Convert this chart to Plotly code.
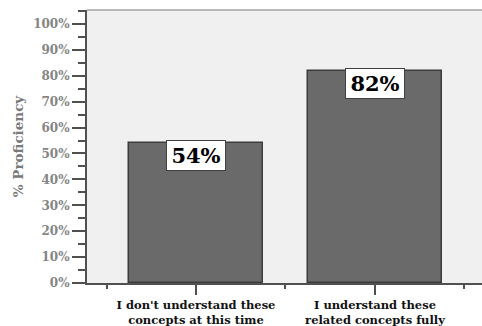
import plotly.graph_objects as go

# Survey categories and proficiency values (%)
categories = ["I don't understand these<br>concepts at this time",
              "I understand these<br>related concepts fully"]
proficiency = [54, 82]
tick_values = [0, 10, 20, 30, 40, 50, 60, 70, 80, 90, 100]
tick_labels = [f"{v}%" for v in tick_values]

x_pos = list(range(len(categories)))
serif = "DejaVu Serif"

fig = go.Figure()
fig.add_trace(go.Bar(
    x=x_pos, y=proficiency, width=0.754,
    marker=dict(color="#6a6a6a", line=dict(color="#3c3c3c", width=1.5)),
    hoverinfo="skip",
))

# value labels in white boxes at the top of each bar
for xi, v in zip(x_pos, proficiency):
    fig.add_annotation(
        x=xi, y=v, xref="x", yref="y", yanchor="top", showarrow=False,
        yshift=3,
        text=f"<b>{v}%</b>", font=dict(family=serif, size=21, color="black"),
        bgcolor="white", bordercolor="#404040", borderwidth=1, borderpad=1,
        width=56, height=27,
    )

# thin grey frame line along the top of the plot area
fig.add_shape(type="line", xref="paper", yref="paper", x0=0, x1=1, y0=1, y1=1,
              line=dict(color="#b8b8b8", width=2))

fig.update_layout(
    width=482, height=326,
    margin=dict(l=87, r=0, t=10, b=43),
    paper_bgcolor="white", plot_bgcolor="#f0f0f0",
    showlegend=False, bargap=0,
    xaxis=dict(
        range=[-0.609, 1.598], tickmode="array", tickvals=x_pos,
        ticktext=[f"<b>{c}</b>" for c in categories],
        tickfont=dict(family=serif, size=11.5, color="#111111"),
        ticks="outside", ticklen=10, tickwidth=1.5, tickcolor="#505050",
        minor=dict(tickmode="linear", tick0=0.5, dtick=1, ticks="outside",
                   ticklen=4, tickwidth=1.5, tickcolor="#505050"),
        showline=True, linecolor="#505050", linewidth=2,
        showgrid=False, zeroline=False, fixedrange=True,
    ),
    yaxis=dict(
        range=[0, 105.4], tickmode="array", tickvals=tick_values,
        ticktext=[f"<b>{t}</b>" for t in tick_labels],
        tickfont=dict(family=serif, size=12, color="#858585"),
        ticks="outside", ticklen=13, tickwidth=1.5, tickcolor="#505050",
        minor=dict(tickmode="linear", tick0=5, dtick=10, ticks="outside",
                   ticklen=7, tickwidth=1.5, tickcolor="#505050"),
        showline=True, linecolor="#505050", linewidth=2,
        showgrid=False, zeroline=False, fixedrange=True,
        title=dict(text="<b>% Proficiency</b>", standoff=6,
                   font=dict(family=serif, size=13.5, color="#7a7a7a")),
    ),
)

fig.write_html("out.html")
